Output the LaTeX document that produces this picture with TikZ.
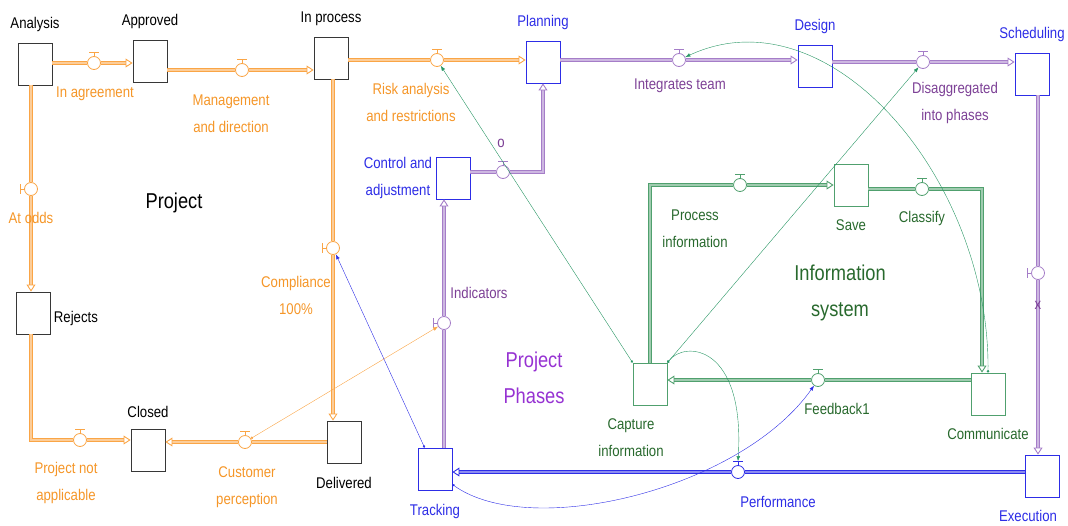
\documentclass[tikz,border=0pt]{standalone}
\usepackage{fontspec}
\setmainfont{Liberation Sans}[FakeStretch=0.85]
\usetikzlibrary{arrows.meta,calc}

\definecolor{negro}{RGB}{55,55,55}
\definecolor{naranja}{RGB}{250,165,70}
\definecolor{naranjatx}{RGB}{245,150,40}
\definecolor{morado}{RGB}{165,125,200}
\definecolor{moradotx}{RGB}{125,65,150}
\definecolor{violeta}{RGB}{150,50,210}
\definecolor{azul}{RGB}{45,45,230}
\definecolor{verde}{RGB}{80,160,110}
\definecolor{verdetx}{RGB}{40,105,45}
\definecolor{verdeln}{RGB}{40,150,100}

\tikzset{
  nivel/.style={rectangle, draw=#1, minimum width=34pt, minimum height=42pt, inner sep=0pt, line width=0.9pt},
  valvula/.style={circle, draw=#1, fill=white, minimum size=13pt, inner sep=0pt, line width=0.8pt},
  flujo/.style={draw=#1, double=#1!55, double distance=2pt, line width=0.9pt, -{Triangle[open, length=7pt, width=9pt]}},
  enlace/.style={draw=#1, thin, arrows={Circle[length=2.5pt]-Latex[length=5pt]}},
  grande/.style={font={\fontsize{21.5}{36}\selectfont}},
}

\begin{document}
\begin{tikzpicture}[x=1pt, y=-1pt, every node/.style={font={\fontsize{15.5}{27}\selectfont}, align=center}]
  \useasboundingbox (0,0) rectangle (1068,525);

  % niveles
  \node[nivel=negro, label={[label distance=7pt]above:{Analysis}}] (an) at (35,64) {};
  \node[nivel=negro, label={[label distance=7pt]above:{Approved}}] (ap) at (150,61) {};
  \node[nivel=negro, label={[label distance=7pt]above:{In process}}] (ip) at (331,58) {};
  \node[nivel=azul, label={[label distance=7pt, azul]above:{Planning}}] (pl) at (543,62) {};
  \node[nivel=azul, label={[label distance=7pt, azul]above:{Design}}] (de) at (815,66) {};
  \node[nivel=azul, label={[label distance=7pt, azul]above:{Scheduling}}] (sc) at (1032,74) {};
  \node[nivel=azul, label={[azul]left:{Control and\\adjustment}}] (ca) at (453,178) {};
  \node[nivel=negro, label={[yshift=-5pt]right:{Rejects}}] (re) at (33,313) {};
  \node[nivel=negro, label={[label distance=7pt]above:{Closed}}] (cl) at (148,450) {};
  \node[nivel=negro, label={[label distance=10pt]below:{Delivered}}] (dl) at (344,442) {};
  \node[nivel=azul, label={[label distance=10pt, azul]below:{Tracking}}] (tr) at (435,469) {};
  \node[nivel=azul, label={[label distance=9pt, azul, xshift=-14pt]below:{Execution}}] (ex) at (1042,476) {};
  \node[nivel=verde, label={[label distance=10pt, verdetx, xshift=-19pt]below:{Capture\\information}}] (cp) at (650,384) {};
  \node[nivel=verde, label={[label distance=10pt, verdetx]below:{Save}}] (sv) at (851,185) {};
  \node[nivel=verde, label={[label distance=9pt, verdetx]below:{Communicate}}] (co) at (988,394) {};

  % valvulas
  \node[valvula=naranja] (v1) at (94,63) {};
  \node[valvula=naranja] (v2) at (242,70) {};
  \node[valvula=naranja] (v3) at (437,60) {};
  \node[valvula=naranja] (v4) at (31,189) {};
  \node[valvula=naranja] (v5) at (333,248) {};
  \node[valvula=naranja] (v6) at (80,440) {};
  \node[valvula=naranja] (v7) at (245,442) {};
  \node[valvula=morado] (v8) at (679,60) {};
  \node[valvula=morado] (v9) at (923,62) {};
  \node[valvula=morado] (v10) at (503,172) {};
  \node[valvula=morado] (v11) at (444,323) {};
  \node[valvula=morado] (v12) at (1038,273) {};
  \node[valvula=verde] (v13) at (740,185) {};
  \node[valvula=verde] (v14) at (922,189) {};
  \node[valvula=verde] (v15) at (818,380) {};
  \node[valvula=azul] (v16) at (738,472) {};

  \foreach \v/\c in {v1/naranja, v2/naranja, v3/naranja, v6/naranja, v7/naranja, v8/morado, v9/morado, v10/morado, v13/verde, v14/verde, v15/verde, v16/azul}
    \draw[\c, line width=0.8pt] (\v.north) -- ++(0,-4) ++(-5,0) -- ++(10,0);
  \foreach \v/\c in {v4/naranja, v5/naranja, v11/morado, v12/morado}
    \draw[\c, line width=0.8pt] (\v.west) -- ++(-4,0) ++(0,-5) -- ++(0,10);

  % flujos
  \draw[flujo=naranja] (an.east|-v1) -- (v1) -- (ap.west|-v1);
  \draw[flujo=naranja] (ap.east|-v2) -- (v2) -- (ip.west|-v2);
  \draw[flujo=naranja] (ip.east|-v3) -- (v3) -- (pl.west|-v3);
  \draw[flujo=naranja] (v4|-an.south) -- (v4) -- (v4|-re.north);
  \draw[flujo=naranja] (v4|-re.south) -- (v4|-v6) -- (v6) -- (cl.west|-v6);
  \draw[flujo=naranja] (v5|-ip.south) -- (v5) -- (v5|-dl.north);
  \draw[flujo=naranja] (dl.west|-v7) -- (v7) -- (cl.east|-v7);
  \draw[flujo=morado] (pl.east|-v8) -- (v8) -- (de.west|-v8);
  \draw[flujo=morado] (de.east|-v9) -- (v9) -- (sc.west|-v9);
  \draw[flujo=morado] (ca.east|-v10) -- (v10) -| (pl.south);
  \draw[flujo=morado] (v11|-tr.north) -- (v11) -- (v11|-ca.south);
  \draw[flujo=morado] (v12|-sc.south) -- (v12) -- (v12|-ex.north);
  \draw[flujo=azul] (ex.west|-v16) -- (v16) -- (tr.east|-v16);
  \draw[flujo=verde] (cp.north) |- (v13) -- (sv.west|-v13);
  \draw[flujo=verde] (sv.east|-v14) -- (v14) -| ($(co.north)+(-6,0)$);
  \draw[flujo=verde] (co.west|-v15) -- (v15) -- (cp.east|-v15);

  % textos de las valvulas
  \node[text=naranjatx] (t1) at (95,94) {In agreement};
  \node[text=naranjatx] (t2) at (231,114) {Management\\and direction};
  \node[text=naranjatx] (t3) at (411,102) {Risk analysis\\and restrictions};
  \node[text=naranjatx] (t4) at (31,218) {At odds};
  \node[text=naranjatx] (t5) at (296,295) {Compliance\\100\%};
  \node[text=naranjatx] (t6) at (66,483) {Project not\\applicable};
  \node[text=naranjatx] (t7) at (247,487) {Customer\\perception};
  \node[text=moradotx] (t8) at (680,86) {Integrates team};
  \node[text=moradotx] (t9) at (955,103) {Disaggregated\\into phases};
  \node[text=moradotx] (t10) at (501,143) {o};
  \node[text=moradotx] (t11) at (479,293) {Indicators};
  \node[text=moradotx] (t12) at (1038,305) {x};
  \node[text=verdetx] (t13) at (695,229) {Process\\information};
  \node[text=verdetx] (t14) at (922,218) {Classify};
  \node[text=verdetx] (t15) at (837,409) {Feedback1};
  \node[text=azul] (t16) at (778,502) {Performance};

  \node[grande] (pr) at (174,203) {Project};
  \node[grande, text=violeta] (ph) at (534,378) {Project\\Phases};
  \node[grande, text=verdetx] (si) at (840,293) {Information\\system};

  % enlaces
  \draw[enlace=verdeln] (cp.north west) -- (v3);
  \draw[enlace=verdeln] (cp.north east) -- (v9);
  \draw[enlace=verdeln] (cp.north east) .. controls (685,340) and (745,345) .. ($(v16.north)+(0,-4)$);
  \draw[enlace=verdeln] (co.north) .. controls (990,180) and (830,-10) .. (v8);
  \draw[enlace=naranja] (v7) -- (v11);
  \draw[enlace=azul] ($(tr.north west)+(7,0)$) -- (v5);
  \draw[enlace=azul] ($(tr.south east)+(0,-6)$) .. controls (530,540) and (740,490) .. (v15);
\end{tikzpicture}
\end{document}
